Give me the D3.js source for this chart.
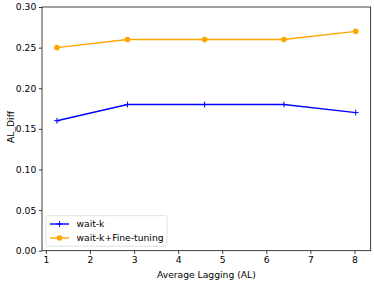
<!DOCTYPE html>
<html>
<head>
<meta charset="utf-8">
<script src="https://cdn.jsdelivr.net/npm/d3@7"></script>
<style>
  body { margin: 0; background: #fff; }
  svg { font-family: "DejaVu Sans", sans-serif; }
</style>
</head>
<body>
<script>
// data
var lagging = [1.25, 2.85, 4.6, 6.4, 8.03];
var waitK = [0.16, 0.18, 0.18, 0.18, 0.17];
var waitKFine = [0.25, 0.26, 0.26, 0.26, 0.27];
var xTicks = [1, 2, 3, 4, 5, 6, 7, 8];
var yTicks = [0, 0.05, 0.10, 0.15, 0.20, 0.25, 0.30];

var W = 374, H = 281;
var margin = {top: 7, right: 3.3, bottom: 30.3, left: 42},
    width = W - margin.left - margin.right,
    height = H - margin.top - margin.bottom;

var svg = d3.select("body").append("svg")
    .attr("width", W)
    .attr("height", H);

var g = svg.append("g")
    .attr("transform", "translate(" + margin.left + "," + margin.top + ")");

//scales, matplotlib style 5% padding on x
var xMin = d3.min(lagging), xMax = d3.max(lagging), pad = (xMax - xMin) * 0.05;
var x = d3.scaleLinear().domain([xMin - pad, xMax + pad]).range([0, width]);
var y = d3.scaleLinear().domain([0, 0.30]).range([height, 0]);

var fs = 9.2;

//axes
var xAxis = g.append("g")
    .attr("transform", "translate(0," + height + ")")
    .call(d3.axisBottom(x).tickValues(xTicks).tickSize(3.2).tickPadding(2.5).tickFormat(d3.format("d")));
var yAxis = g.append("g")
    .call(d3.axisLeft(y).tickValues(yTicks).tickSize(3.2).tickPadding(2.5).tickFormat(d3.format(".2f")));

[xAxis, yAxis].forEach(function(a) {
    a.select(".domain").remove();
    a.selectAll(".tick line").attr("stroke", "#000").attr("stroke-width", 0.75);
    a.selectAll(".tick text").attr("fill", "#000").style("font-size", fs + "px")
        .style("font-family", "DejaVu Sans");
});

//frame
g.append("rect")
    .attr("width", width)
    .attr("height", height)
    .attr("fill", "none")
    .attr("stroke", "#000")
    .attr("stroke-width", 0.75);

var line = d3.line()
    .x(function(d) { return x(d[0]); })
    .y(function(d) { return y(d[1]); });

var blueData = d3.zip(lagging, waitK);
var orangeData = d3.zip(lagging, waitKFine);

g.append("path")
    .datum(blueData)
    .attr("d", line)
    .attr("fill", "none")
    .attr("stroke", "blue")
    .attr("stroke-width", 1.4);

g.selectAll(".plus")
    .data(blueData)
    .enter().append("path")
    .attr("class", "plus")
    .attr("d", function(d) {
        var cx = x(d[0]), cy = y(d[1]), r = 2.9;
        return "M" + (cx - r) + "," + cy + "H" + (cx + r) + "M" + cx + "," + (cy - r) + "V" + (cy + r);
    })
    .attr("stroke", "blue")
    .attr("stroke-width", 1);

g.append("path")
    .datum(orangeData)
    .attr("d", line)
    .attr("fill", "none")
    .attr("stroke", "orange")
    .attr("stroke-width", 1.4);

g.selectAll(".dot")
    .data(orangeData)
    .enter().append("circle")
    .attr("class", "dot")
    .attr("cx", function(d) { return x(d[0]); })
    .attr("cy", function(d) { return y(d[1]); })
    .attr("r", 2.8)
    .attr("fill", "orange");

//labels
svg.append("text")
    .attr("x", margin.left + width / 2)
    .attr("y", 278)
    .attr("text-anchor", "middle")
    .style("font-size", fs + "px")
    .text("Average Lagging (AL)");

svg.append("text")
    .attr("transform", "translate(13.5,127) rotate(-90)")
    .attr("text-anchor", "middle")
    .style("font-size", fs + "px")
    .text("AL_Diff");

//legend
var lg = g.append("g").attr("transform", "translate(4," + (height - 35) + ")");
lg.append("rect")
    .attr("width", 121)
    .attr("height", 30.5)
    .attr("rx", 2)
    .attr("fill", "#fff")
    .attr("fill-opacity", 0.8)
    .attr("stroke", "#d6d6d6")
    .attr("stroke-width", 0.75);

var items = [{label: "wait-k", color: "blue", mark: "plus"},
             {label: "wait-k+Fine-tuning", color: "orange", mark: "dot"}];

items.forEach(function(it, i) {
    var yy = 8.3 + i * 14;
    lg.append("line")
        .attr("x1", 4).attr("x2", 23)
        .attr("y1", yy).attr("y2", yy)
        .attr("stroke", it.color)
        .attr("stroke-width", 1.4);
    if (it.mark == "plus") {
        lg.append("path")
            .attr("d", "M" + (13.5 - 2.9) + "," + yy + "H" + (13.5 + 2.9) + "M13.5," + (yy - 2.9) + "V" + (yy + 2.9))
            .attr("stroke", it.color)
            .attr("stroke-width", 1);
    } else {
        lg.append("circle")
            .attr("cx", 13.5).attr("cy", yy).attr("r", 2.8)
            .attr("fill", it.color);
    }
    lg.append("text")
        .attr("x", 30.5)
        .attr("y", yy)
        .attr("dy", "0.35em")
        .style("font-size", fs + "px")
        .text(it.label);
});
</script>
</body>
</html>
